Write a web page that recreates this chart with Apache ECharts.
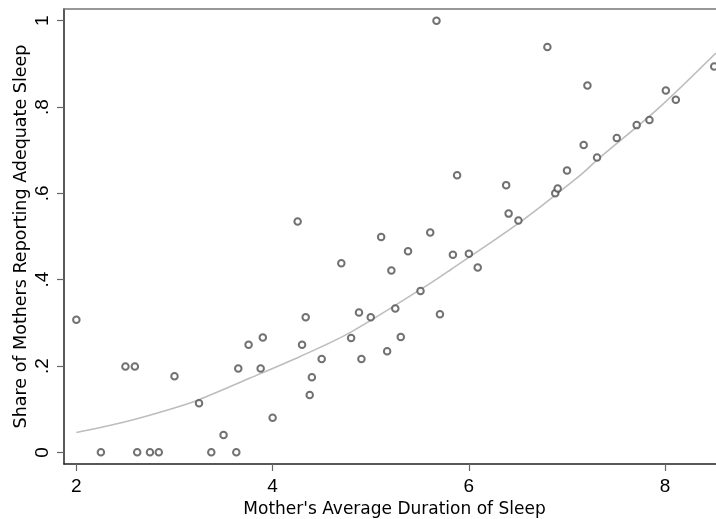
<!DOCTYPE html>
<html>
<head>
<meta charset="utf-8">
<script src="https://cdn.jsdelivr.net/npm/echarts@6/dist/echarts.min.js"></script>
<style>html,body{margin:0;padding:0;background:#fff}#c{width:716px;height:519px}</style>
</head>
<body>
<div id="c"></div>
<script>
// Scatter points: mother's average sleep duration (x) vs share reporting adequate sleep (y)
const sleepHours = [2.0,2.25,2.5,2.596,2.62,2.75,2.84,3.0,3.25,3.375,3.5,3.63,3.65,3.755,3.878,3.90,4.0,4.255,4.30,4.337,4.378,4.40,4.50,4.70,4.80,4.88,4.905,5.0,5.106,5.167,5.21,5.25,5.306,5.38,5.507,5.606,5.67,5.705,5.837,5.88,6.0,6.09,6.38,6.405,6.505,6.80,6.88,6.905,7.0,7.17,7.208,7.306,7.507,7.71,7.84,8.007,8.109,8.50];
const shareAdequate = [0.307,0,0.199,0.199,0,0,0,0.176,0.114,0,0.040,0,0.194,0.249,0.194,0.266,0.080,0.535,0.249,0.313,0.133,0.174,0.216,0.438,0.265,0.324,0.216,0.313,0.499,0.234,0.421,0.333,0.267,0.466,0.374,0.509,1.0,0.320,0.458,0.642,0.460,0.428,0.619,0.553,0.537,0.939,0.600,0.611,0.653,0.712,0.850,0.683,0.728,0.758,0.770,0.838,0.817,0.894];
// Fitted (quadratic) curve
const fitX = [2.0,2.5,2.956,3.25,3.77,4.28,4.793,5.609,5.813,6.507,7.14,7.31,7.922,8.517];
const fitY = [0.046,0.071,0.100,0.122,0.172,0.222,0.278,0.392,0.423,0.531,0.643,0.678,0.795,0.925];
// Tick values and labels
const xTicks = [2,4,6,8];
const xTickLabels = ['2','4','6','8'];
const yTicks = [0,0.2,0.4,0.6,0.8,1];
const yTickLabels = ['0','.2','.4','.6','.8','1'];

const tickFont = '"Liberation Sans", Arial, sans-serif';
const titleFont = '"DejaVu Sans", sans-serif';
const chart = echarts.init(document.getElementById('c'), null, {renderer:'canvas'});
const scatterData = sleepHours.map((x,i)=>[x, shareAdequate[i]]);
const fitData = fitX.map((x,i)=>[x, fitY[i]]);
const labelMap = (ticks, labels) => v => {
  for (let i=0;i<ticks.length;i++) if (Math.abs(ticks[i]-v)<1e-6) return labels[i];
  return '';
};
chart.setOption({
  animation:false,
  backgroundColor:'#fff',
  grid:{left:64, top:9, bottom:55, right:-9, containLabel:false, outerBoundsMode:'none'},
  xAxis:[{
    type:'value', position:'bottom', min:1.874, max:8.61,
    name:"Mother's Average Duration of Sleep", nameLocation:'middle', nameGap:37, nameMoveOverlap:false,
    nameTextStyle:{fontFamily:titleFont, fontSize:17, color:'#000'},
    axisLine:{show:true, onZero:false, lineStyle:{color:'#222', width:1.5}},
    axisTick:{show:true, length:7, customValues:xTicks, lineStyle:{color:'#666', width:1.2}},
    axisLabel:{customValues:xTicks, formatter:labelMap(xTicks,xTickLabels), fontFamily:tickFont, fontSize:19, color:'#000', margin:13},
    splitLine:{show:false}
  },{
    type:'value', position:'top', min:1.874, max:8.61,
    axisLine:{show:true, onZero:false, lineStyle:{color:'#777', width:1.5}},
    axisTick:{show:false}, axisLabel:{show:false}, splitLine:{show:false}
  }],
  yAxis:{
    type:'value', min:-0.027, max:1.027,
    name:'Share of Mothers Reporting Adequate Sleep', nameLocation:'middle', nameGap:34, nameMoveOverlap:false,
    nameTextStyle:{fontFamily:titleFont, fontSize:17.5, color:'#000'},
    axisLine:{show:true, onZero:false, lineStyle:{color:'#222', width:1.5}},
    axisTick:{show:true, length:7, customValues:yTicks, lineStyle:{color:'#666', width:1.2}},
    axisLabel:{customValues:yTicks, formatter:labelMap(yTicks,yTickLabels), rotate:90, fontFamily:tickFont, fontSize:19, color:'#000', margin:12},
    splitLine:{show:false}
  },
  series:[{
    type:'line', xAxisIndex:0, data:fitData, smooth:0.3, showSymbol:false, symbol:'none',
    lineStyle:{color:'#bdbdbd', width:1.6}, z:1, clip:true
  },{
    type:'scatter', xAxisIndex:0, data:scatterData, symbol:'circle', symbolSize:6.5,
    itemStyle:{color:'#fff', borderColor:'#4d4d4d', borderWidth:2}, z:3
  }]
});
</script>
</body>
</html>
